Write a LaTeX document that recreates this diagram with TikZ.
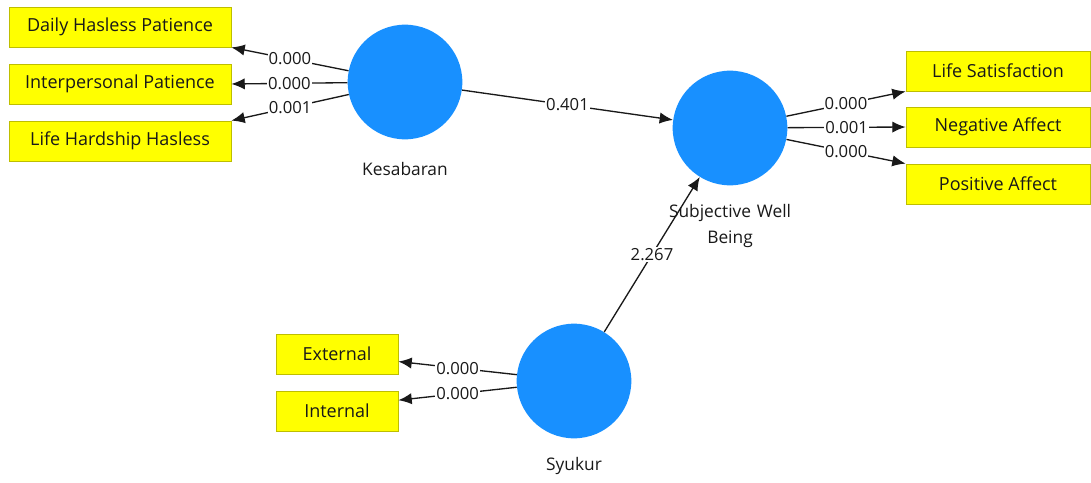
\documentclass[tikz,border=0pt]{standalone}
\usepackage{fontspec}
\setmainfont{Open Sans}
\usetikzlibrary{arrows.meta,positioning}
\definecolor{lvblue}{RGB}{24,144,255}
\definecolor{mvyellow}{RGB}{255,255,0}
\definecolor{mvborder}{RGB}{190,190,0}
\definecolor{txtdark}{RGB}{25,25,25}
\tikzset{
  latent/.style={circle,fill=lvblue,minimum size=86pt,inner sep=0pt},
  indic/.style={rectangle,fill=mvyellow,draw=mvborder,line width=0.6pt,minimum height=30pt,inner sep=0pt,font=\fontsize{13.5}{16}\selectfont,text=txtdark},
  latlabel/.style={font=\fontsize{13}{19.5}\selectfont,text=txtdark,align=center},
  conn/.style={line width=1pt,draw=black!90,-{Latex[length=10pt,width=8.5pt]}},
  wlab/.style={fill=white,inner sep=0.8pt,font=\fontsize{12.5}{14}\selectfont,text=txtdark}
}
\begin{document}
\begin{tikzpicture}[x=0.75pt,y=-0.75pt]
\useasboundingbox (0,0) rectangle (1091,482);
% latent variables
\node[latent] (kes) at (405,82) {};
\node[latent] (swb) at (730,128) {};
\node[latent] (syu) at (574,381) {};
\node[latlabel] (keslab) at (405,169) {Kesabaran};
\node[latlabel,text width=120pt] (swblab) at (730,226) {Subjective Well\\Being};
\node[latlabel] (syulab) at (574,466) {Syukur};
% indicators
\node[indic,minimum width=166.5pt] (dhp) at (120,27) {Daily Hasless Patience};
\node[indic,minimum width=166.5pt] (ipp) at (120,84) {Interpersonal Patience};
\node[indic,minimum width=166.5pt] (lhh) at (120,141) {Life Hardship Hasless};
\node[indic,minimum width=138pt] (ls) at (998,71) {Life Satisfaction};
\node[indic,minimum width=138pt] (na) at (998,127) {Negative Affect};
\node[indic,minimum width=138pt] (pa) at (998,184) {Positive Affect};
\node[indic,minimum width=91.5pt] (ext) at (337,354) {External};
\node[indic,minimum width=91.5pt] (int) at (337,411) {Internal};
% connectors
\draw[conn] (kes) -- node[wlab]{0.000} (dhp.south east);
\draw[conn] (kes) -- node[wlab]{0.000} (ipp.east);
\draw[conn] (kes) -- node[wlab]{0.001} (lhh.north east);
\draw[conn] (kes) -- node[wlab]{0.401} (swb);
\draw[conn] (syu) -- node[wlab]{2.267} (swb);
\draw[conn] (swb) -- node[wlab]{0.000} (ls.south west);
\draw[conn] (swb) -- node[wlab]{0.001} (na.west);
\draw[conn] (swb) -- node[wlab]{0.000} (pa.north west);
\draw[conn] (syu) -- node[wlab]{0.000} (ext.-7);
\draw[conn] (syu) -- node[wlab]{0.000} (int.10);
\end{tikzpicture}
\end{document}
